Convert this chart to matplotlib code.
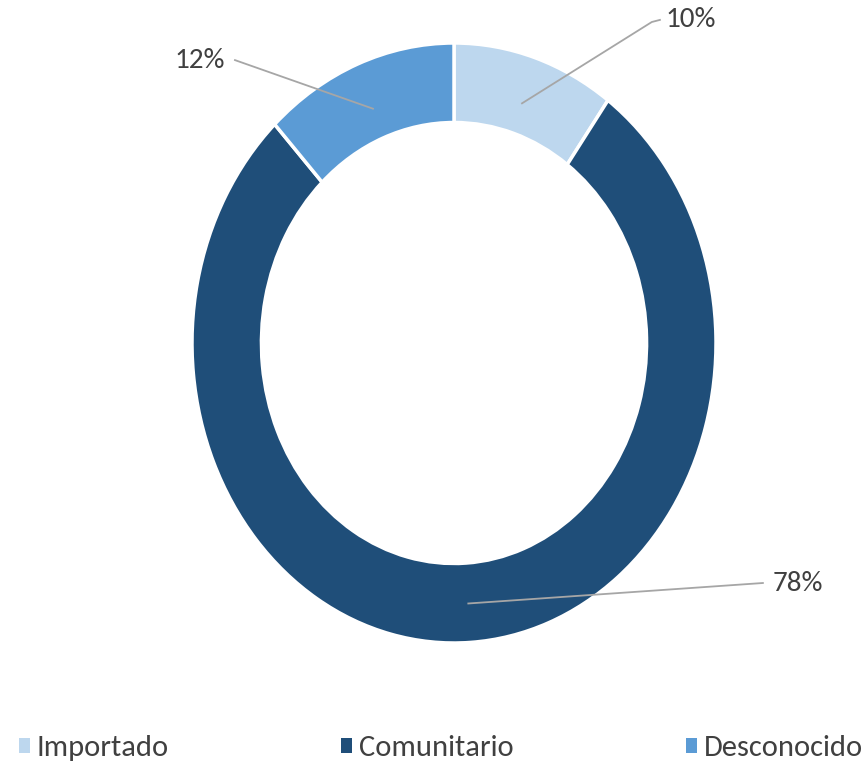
import matplotlib
matplotlib.use("Agg")
import numpy as np
import matplotlib.pyplot as plt
from matplotlib.patches import Patch

plt.rcParams['font.family'] = ['Carlito', 'DejaVu Sans']

categories = ['Importado', 'Comunitario', 'Desconocido']
values = [10, 78, 12]
colors = ['#BDD7EE', '#1F4E79', '#5B9BD5']

# layout of the data labels (data units): text centre, leader knee, leader end, leader start radius
label_pos = [(0.905, 1.077), (1.313, -0.803), (-0.969, 0.943)]
line_knee = [(0.755, 1.07), None, None]
line_end = [(0.786, 1.077), (1.179, -0.80), (-0.836, 0.943)]
line_r = [0.84, 0.87, 0.84]

fig = plt.figure(figsize=(8.67, 7.74), dpi=100)
ax = fig.add_axes([0, 0, 1, 1])

wedges, _ = ax.pie(values, colors=colors, startangle=90, counterclock=False,
                   radius=1.0, wedgeprops=dict(width=0.265, edgecolor='white', linewidth=2.5))

ax.set_aspect('auto')
ax.set_xlim(-454 / 262, (867 - 454) / 262)
ax.set_ylim((343 - 774) / 300, 343 / 300)
ax.axis('off')

for w, v, lp, lk, le, r in zip(wedges, values, label_pos, line_knee, line_end, line_r):
    ang = np.deg2rad((w.theta1 + w.theta2) / 2)
    xs = [r * np.cos(ang)]
    ys = [r * np.sin(ang)]
    if lk is not None:
        xs.append(lk[0])
        ys.append(lk[1])
    xs.append(le[0])
    ys.append(le[1])
    ax.plot(xs, ys, color='#A6A6A6', lw=1.3, zorder=3)
    ax.text(lp[0], lp[1], f'{v}%', ha='center', va='center', fontsize=21, color='#404040')

handles = [Patch(facecolor=c, edgecolor='none') for c in colors]
leg = fig.legend(handles, categories, loc='center left', bbox_to_anchor=(19 / 867, 0.033), ncol=3,
                 frameon=False, fontsize=22, handlelength=0.36, handleheight=0.36,
                 handletextpad=0.22, columnspacing=5.65, borderpad=0, borderaxespad=0,
                 labelcolor='#404040')

fig.savefig('out.png', dpi=100)
